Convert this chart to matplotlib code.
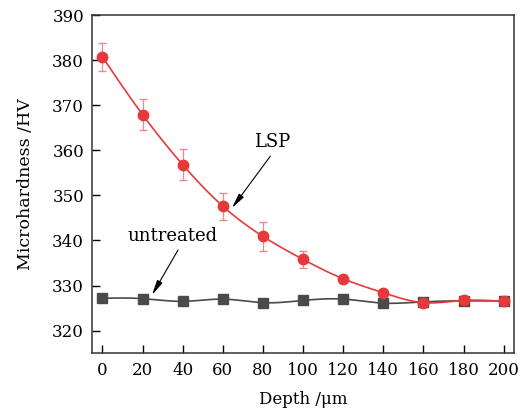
import numpy as np
import matplotlib.pyplot as plt

plt.rcParams['font.family'] = ['DejaVu Serif']
plt.rcParams['mathtext.fontset'] = 'dejavuserif'

# depth (um)
depth = [0, 20, 40, 60, 80, 100, 120, 140, 160, 180, 200]
# microhardness (HV)
lsp = [380.7, 367.9, 356.8, 347.6, 340.9, 335.8, 331.5, 328.4, 326.2, 326.7, 326.5]
lsp_err = [3.1, 3.4, 3.4, 3.0, 3.2, 1.9, 0.9, 0.8, 0.4, 0.3, 0.3]
untreated = [327.2, 327.1, 326.5, 327.0, 326.2, 326.7, 327.0, 326.1, 326.4, 326.6, 326.6]
untreated_err = [0.3, 0.2, 0.3, 0.3, 0.4, 0.3, 0.3, 0.5, 0.3, 0.2, 0.3]


def natural_spline(x, y, n=400):
    # natural cubic spline, just for drawing a smooth line through the points
    x = np.asarray(x, float)
    y = np.asarray(y, float)
    h = np.diff(x)
    m = len(x)
    A = np.zeros((m, m))
    b = np.zeros(m)
    A[0, 0] = A[-1, -1] = 1
    for i in range(1, m - 1):
        A[i, i - 1] = h[i - 1]
        A[i, i] = 2 * (h[i - 1] + h[i])
        A[i, i + 1] = h[i]
        b[i] = 3 * ((y[i + 1] - y[i]) / h[i] - (y[i] - y[i - 1]) / h[i - 1])
    c = np.linalg.solve(A, b)
    xs = np.linspace(x[0], x[-1], n)
    idx = np.clip(np.searchsorted(x, xs) - 1, 0, m - 2)
    dx = xs - x[idx]
    bb = (y[idx + 1] - y[idx]) / h[idx] - h[idx] * (2 * c[idx] + c[idx + 1]) / 3
    dd = (c[idx + 1] - c[idx]) / (3 * h[idx])
    ys = y[idx] + bb * dx + c[idx] * dx ** 2 + dd * dx ** 3
    return xs, ys


red = '#e53a3b'
gray = '#4a4a4a'

fig, ax = plt.subplots(figsize=(5.28, 4.17), dpi=100)
fig.subplots_adjust(left=0.175, right=0.973, top=0.964, bottom=0.153)

xs, ys = natural_spline(depth, untreated)
ax.plot(xs, ys, color=gray, lw=1.2, zorder=2)
ax.errorbar(depth, untreated, yerr=untreated_err, fmt='s', color=gray, ms=6.5,
            ecolor='#9a9a9a', elinewidth=0.8, capsize=3, zorder=3)

xs, ys = natural_spline(depth, lsp)
ax.plot(xs, ys, color=red, lw=1.2, zorder=4)
ax.errorbar(depth, lsp, yerr=lsp_err, fmt='o', color=red, ms=7.5,
            ecolor='#f08a8a', elinewidth=0.9, capsize=3, zorder=5)

arrow = dict(arrowstyle='-|>,head_length=0.9,head_width=0.18', color='black',
             lw=0.8, shrinkA=0, shrinkB=0, mutation_scale=10)
ax.text(84.5, 361.9, 'LSP', fontsize=13, ha='center', va='center')
ax.annotate('', xy=(64.6, 347.2), xytext=(83.7, 358.7), arrowprops=arrow)
ax.text(34.7, 341.1, 'untreated', fontsize=13, ha='center', va='center')
ax.annotate('', xy=(24.7, 327.9), xytext=(37.7, 337.9), arrowprops=arrow)

ax.set_xlim(-5, 205)
ax.set_ylim(315, 390)
ax.set_xticks(range(0, 201, 20))
ax.set_yticks(range(320, 391, 10))
ax.tick_params(direction='in', length=6, width=1, labelsize=12, top=False, right=False, pad=6)
for s in ax.spines.values():
    s.set_linewidth(1.1)
    s.set_color('#333333')

ax.set_xlabel('Depth /μm', fontsize=12, labelpad=9)
ax.set_ylabel('Microhardness /HV', fontsize=12.5, labelpad=13)

plt.savefig('out.png', dpi=100)
plt.close()
